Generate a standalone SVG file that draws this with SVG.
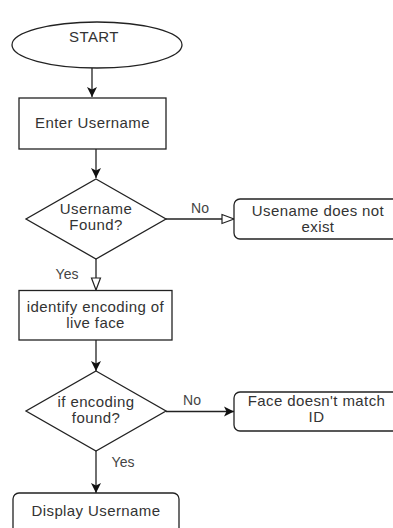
<svg xmlns="http://www.w3.org/2000/svg" width="393" height="528" viewBox="0 0 393 528">
<style>
.s{fill:#fff;stroke:#222;stroke-width:1.3}
.t{font-family:"Liberation Sans",Arial,sans-serif;font-size:15px;letter-spacing:0.4px;fill:#333;text-anchor:middle}
.l{font-family:"Liberation Sans",Arial,sans-serif;font-size:14px;fill:#444;text-anchor:middle}
.c{fill:none;stroke:#222;stroke-width:1.3}
</style>
<defs>
<marker id="fa" markerUnits="userSpaceOnUse" markerWidth="12" markerHeight="12" viewBox="0 0 12 12" refX="11" refY="6" orient="auto">
<path d="M1,1 L11,6 L1,11 L3.5,6 Z" fill="#111"/>
</marker>
<marker id="oa" markerUnits="userSpaceOnUse" markerWidth="14" markerHeight="12" viewBox="0 0 14 12" refX="13" refY="6" orient="auto">
<path d="M1,1.5 L13,6 L1,10.5 Z" fill="#fff" stroke="#222" stroke-width="1.2"/>
</marker>
</defs>
<rect width="393" height="528" fill="#fff"/>
<g id="connectors">
<path class="c" d="M92,68 V97" marker-end="url(#fa)"/>
<path class="c" d="M96,149 V178" marker-end="url(#fa)"/>
<path class="c" d="M166,219 H234" marker-end="url(#oa)"/>
<path class="c" d="M96,259 V290" marker-end="url(#oa)"/>
<path class="c" d="M96,340 V371" marker-end="url(#fa)"/>
<path class="c" d="M166,411.5 H234" marker-end="url(#fa)"/>
<path class="c" d="M96,451 V493" marker-end="url(#fa)"/>
<text class="l" x="200" y="213">No</text>
<text class="l" x="67" y="279">Yes</text>
<text class="l" x="192" y="405">No</text>
<text class="l" x="123" y="467">Yes</text>
</g>
<g id="start">
<ellipse class="s" cx="97" cy="45" rx="85" ry="23"/>
<text class="t" x="94" y="42">START</text>
</g>
<g id="enter-username">
<rect class="s" x="19" y="98" width="147" height="51"/>
<text class="t" x="92.5" y="128">Enter Username</text>
</g>
<g id="username-found">
<polygon class="s" points="96,179 166,219 96,259 26,219"/>
<text class="t" x="96" y="214">Username</text>
<text class="t" x="96" y="230">Found?</text>
</g>
<g id="username-not-exist">
<rect class="s" x="234" y="199" width="170" height="40" rx="6"/>
<text class="t" x="318" y="216">Usename does not</text>
<text class="t" x="318" y="232">exist</text>
</g>
<g id="identify-encoding">
<rect class="s" x="19" y="290.5" width="153" height="49.5"/>
<text class="t" x="95.5" y="312">identify encoding of</text>
<text class="t" x="95.5" y="328">live face</text>
</g>
<g id="encoding-found">
<polygon class="s" points="96,371 166,411 96,451 26,411"/>
<text class="t" x="96" y="407">if encoding</text>
<text class="t" x="96" y="423">found?</text>
</g>
<g id="face-mismatch">
<rect class="s" x="234" y="392" width="170" height="39" rx="6"/>
<text class="t" x="316.5" y="406">Face doesn't match</text>
<text class="t" x="316.5" y="422">ID</text>
</g>
<g id="display-username">
<rect class="s" x="13" y="493" width="166" height="50" rx="6"/>
<text class="t" x="96" y="515.5">Display Username</text>
</g>
</svg>
